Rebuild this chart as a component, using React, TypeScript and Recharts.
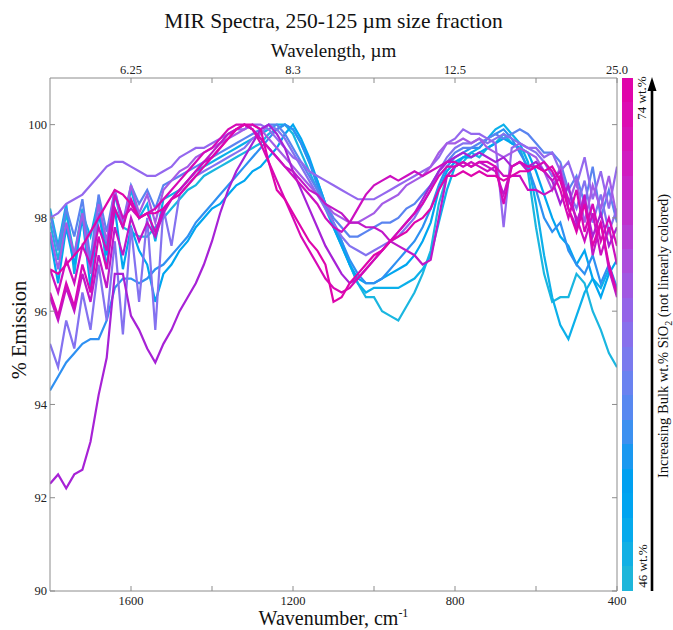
import React from 'react';
import { LineChart, Line, XAxis, YAxis } from 'recharts';

// x grid, cm-1 (plot runs high -> low)
const WAVENUMBERS = [
  1800, 1780, 1760, 1740, 1720, 1700, 1680, 1660, 1640, 1620,
  1600, 1580, 1560, 1540, 1520, 1500, 1480, 1460, 1440, 1420,
  1400, 1380, 1360, 1340, 1320, 1300, 1280, 1260, 1240, 1220,
  1200, 1180, 1160, 1140, 1120, 1100, 1080, 1060, 1040, 1020,
  1000, 980, 960, 940, 920, 900, 880, 860, 840, 820,
  800, 780, 760, 740, 720, 700, 680, 660, 640, 620,
  600, 580, 560, 540, 520, 500, 480, 460, 440, 420,
  400,
];

// % emission, one array per sample, lowest SiO2 first
const SPEC_01 = [
  97.9, 97.1, 98.1, 97.2, 98.2, 97.0, 98.3, 97.4, 98.2, 97.8,
  97.7, 97.6, 97.6, 97.8, 98.0, 98.2, 98.4, 98.6, 98.7, 98.9,
  99.0, 99.1, 99.2, 99.3, 99.4, 99.5, 99.6, 99.8, 99.9, 100.0,
  99.8, 99.4, 99.0, 98.6, 98.2, 97.8, 97.4, 97.0, 96.6, 96.3,
  96.3, 96.0, 95.9, 95.8, 96.1, 96.4, 96.8, 97.3, 98.3, 98.9,
  99.1, 99.2, 99.4, 99.3, 99.5, 99.6, 99.8, 99.6, 99.5, 99.0,
  97.8, 96.8, 96.2, 96.3, 96.3, 96.8, 96.6, 96.0, 95.6, 95.1,
  94.8,
];
const SPEC_02 = [
  98.2, 97.4, 98.3, 96.8, 98.1, 97.6, 98.4, 96.9, 98.5, 97.8,
  98.6, 98.0, 98.3, 97.5, 98.4, 98.5, 98.6, 98.8, 99.0, 99.1,
  99.2, 99.3, 99.4, 99.5, 99.6, 99.7, 99.8, 99.9, 100.0, 100.0,
  99.9, 99.6, 99.2, 98.8, 98.3, 97.9, 97.5, 97.0, 96.6, 96.4,
  96.5, 96.5, 96.5, 96.5, 96.6, 96.7, 96.9, 97.2, 97.9, 98.6,
  99.1, 99.3, 99.4, 99.5, 99.7, 99.9, 100.0, 99.8, 99.6, 99.2,
  98.3, 97.2, 96.3, 95.7, 95.4, 95.9, 96.4, 96.7, 96.5, 96.9,
  96.4,
];
const SPEC_03 = [
  97.6, 96.6, 97.8, 97.0, 98.0, 96.5, 98.1, 97.2, 98.2, 96.9,
  97.8, 97.3, 97.0, 96.2, 96.8, 97.0, 97.3, 97.5, 97.8, 98.0,
  98.2, 98.3, 98.5, 98.7, 98.8, 99.0, 99.1, 99.3, 99.5, 99.8,
  100.0, 99.7, 99.3, 98.8, 98.3, 97.8, 97.4, 97.0, 96.7, 96.6,
  96.6, 96.7, 96.8, 96.9, 97.0, 97.2, 97.5, 97.9, 98.6, 99.0,
  99.2, 99.3, 99.3, 99.4, 99.5, 99.6, 99.7, 99.6, 99.5, 99.4,
  99.0, 98.5, 98.0, 97.6, 97.4, 97.0, 97.3, 96.7, 96.3, 96.8,
  97.1,
];
const SPEC_04 = [
  94.3, 94.6, 94.9, 95.1, 95.3, 95.4, 95.4, 95.8, 96.5, 96.7,
  96.7, 96.6, 96.7, 96.9, 97.0, 97.2, 97.4, 97.6, 97.9, 98.1,
  98.3, 98.5, 98.7, 98.9, 99.1, 99.3, 99.5, 99.7, 99.9, 100.0,
  99.9, 99.6, 99.2, 98.7, 98.3, 97.9, 97.5, 97.1, 96.8, 96.6,
  96.6, 96.7, 96.9, 97.1, 97.3, 97.5, 97.8, 98.2, 98.7, 99.1,
  99.3, 99.4, 99.5, 99.5, 99.7, 99.8, 99.9, 99.7, 99.4, 99.1,
  98.6, 98.0, 97.7, 97.9, 97.3, 97.0, 96.8, 97.2, 96.6, 97.0,
  96.5,
];
const SPEC_05 = [
  98.1, 97.3, 98.2, 97.6, 98.4, 97.1, 98.5, 97.7, 98.6, 97.9,
  98.7, 98.3, 98.6, 98.2, 98.7, 98.8, 98.9, 99.0, 99.1, 99.2,
  99.3, 99.4, 99.5, 99.6, 99.7, 99.8, 99.9, 100.0, 100.0, 99.8,
  99.5, 99.2, 98.9, 98.6, 98.3, 98.0, 97.8, 97.6, 97.6, 97.7,
  97.8, 97.9, 97.9, 98.0, 98.2, 98.3, 98.5, 98.7, 99.0, 99.2,
  99.4, 99.5, 99.5, 99.6, 99.7, 99.8, 99.7, 99.8, 99.9, 99.8,
  99.6, 99.4, 99.4, 99.2, 98.6, 98.9, 98.3, 99.1, 98.0, 98.6,
  97.9,
];
const SPEC_06 = [
  95.3, 94.8, 95.8, 95.2, 96.4, 95.6, 97.0, 95.8, 97.5, 95.5,
  97.8, 96.2, 98.0, 95.6, 98.2, 97.4, 98.5, 98.7, 98.9, 99.0,
  99.1, 99.2, 99.3, 99.4, 99.5, 99.7, 99.8, 100.0, 99.9, 99.7,
  99.4, 99.1, 98.8, 98.5, 98.2, 97.9, 97.6, 97.4, 97.3, 97.2,
  97.3, 97.4, 97.5, 97.6, 97.8, 98.0, 98.3, 98.6, 99.0, 99.3,
  99.5, 99.6, 99.6, 99.7, 99.6, 99.7, 99.8, 99.7, 99.6, 99.5,
  99.4, 99.2, 98.9, 99.0, 98.6, 98.2, 98.8, 97.9, 98.5, 97.7,
  98.2,
];
const SPEC_07 = [
  98.0, 98.1, 98.3, 98.4, 98.5, 98.7, 98.9, 99.1, 99.2, 99.2,
  99.1, 99.0, 98.9, 98.9, 99.0, 99.1, 99.3, 99.4, 99.5, 99.5,
  99.6, 99.7, 99.8, 99.9, 99.9, 100.0, 100.0, 99.9, 99.7, 99.5,
  99.3, 99.2, 99.0, 98.9, 98.8, 98.7, 98.6, 98.5, 98.4, 98.4,
  98.4, 98.5, 98.6, 98.7, 98.8, 98.9, 99.0, 99.1, 99.3, 99.6,
  99.7, 99.9, 99.8, 99.8, 99.7, 99.6, 97.8, 99.5, 99.6, 99.5,
  99.5, 99.3, 99.4, 99.0, 99.2, 98.7, 99.3, 98.4, 99.0, 98.2,
  99.1,
];
const SPEC_08 = [
  97.7, 96.9, 97.9, 97.2, 98.1, 96.8, 98.3, 97.5, 98.6, 97.8,
  98.7, 98.1, 98.5, 97.9, 98.6, 98.8, 99.0, 99.1, 99.3, 99.4,
  99.5, 99.6, 99.7, 99.8, 99.9, 100.0, 99.9, 99.7, 99.5, 99.3,
  99.1, 98.9, 98.7, 98.5, 98.3, 98.1, 98.0, 97.9, 97.9, 98.0,
  98.1, 98.3, 98.4, 98.5, 98.7, 98.8, 98.9, 99.1, 99.4, 99.6,
  99.6, 99.7, 99.6, 99.7, 99.5, 99.4, 99.3, 99.4, 99.5, 99.4,
  99.3, 99.0, 98.6, 99.1, 98.3, 98.8, 97.9, 98.7, 98.2, 98.9,
  98.0,
];
const SPEC_09 = [
  92.3, 92.5, 92.2, 92.5, 92.6, 93.2, 94.2, 95.0, 96.8, 96.8,
  95.9, 95.6, 95.2, 94.9, 95.3, 95.6, 96.0, 96.3, 96.6, 97.0,
  97.5, 98.1, 98.6, 99.0, 99.3, 99.6, 99.9, 100.0, 99.8, 99.5,
  99.0, 98.6, 98.2, 97.8, 97.4, 97.1, 96.8, 96.6, 96.7, 96.9,
  97.1, 97.3, 97.5, 97.7, 97.9, 98.1, 98.4, 98.7, 99.0, 99.2,
  99.3, 99.4, 99.3, 99.4, 99.3, 99.2, 99.3, 99.1, 99.2, 99.1,
  99.2, 99.0, 98.8, 98.3, 98.7, 97.9, 98.4, 97.6, 98.1, 97.4,
  97.8,
];
const SPEC_10 = [
  96.3, 95.8, 96.5, 96.0, 96.8, 96.2, 97.2, 96.5, 97.8, 97.2,
  98.0, 97.5, 97.9, 97.6, 98.1, 98.4, 98.6, 98.8, 99.0, 99.2,
  99.4, 99.6, 99.8, 99.9, 100.0, 99.9, 99.7, 99.5, 99.3, 99.1,
  99.0, 98.8, 98.6, 98.5, 98.3, 98.2, 98.1, 97.9, 97.9, 97.8,
  97.8, 97.7, 97.5, 97.4, 97.3, 97.2, 97.0, 97.1, 98.0, 98.9,
  99.1, 99.2, 99.1, 99.2, 99.1, 99.0, 98.5, 99.1, 99.2, 99.0,
  99.1, 99.0, 98.8, 99.0, 98.2, 97.8, 98.5, 97.2, 97.9, 96.9,
  96.3,
];
const SPEC_11 = [
  96.9, 96.4, 97.1, 96.6, 97.4, 97.0, 97.8, 97.3, 98.5, 98.0,
  98.2, 98.0, 98.1, 97.7, 98.2, 98.4, 98.6, 98.8, 99.0, 99.2,
  99.3, 99.5, 99.7, 99.9, 100.0, 99.9, 99.7, 99.5, 99.3, 99.1,
  98.9, 98.7, 98.5, 98.3, 98.0, 97.8, 97.7, 97.9, 98.2, 98.5,
  98.7, 98.8, 98.9, 98.8, 98.9, 99.0, 98.9, 99.0, 99.1, 99.2,
  99.2, 99.1, 99.2, 99.1, 99.0, 99.1, 98.9, 98.9, 98.9, 98.6,
  98.6, 98.5, 98.6, 98.9, 98.4, 98.0, 97.5, 98.1, 97.2, 97.8,
  97.0,
];
const SPEC_12 = [
  96.4, 95.9, 96.6, 96.1, 97.0, 96.4, 97.6, 96.9, 98.2, 97.8,
  98.4, 98.0, 98.1, 98.2, 98.4, 98.6, 98.8, 99.0, 99.2, 99.4,
  99.5, 99.7, 99.9, 100.0, 100.0, 99.9, 99.6, 99.2, 98.8, 98.4,
  98.0, 97.6, 97.3, 97.0, 96.7, 96.5, 96.4, 96.5, 96.7, 96.9,
  97.1, 97.3, 97.5, 97.7, 97.9, 98.1, 98.3, 98.6, 98.9, 99.1,
  99.1, 99.2, 99.1, 99.2, 99.2, 99.1, 98.3, 99.1, 99.2, 99.1,
  99.1, 99.2, 99.0, 98.6, 98.0, 98.6, 97.7, 98.3, 97.5, 98.0,
  97.4,
];
const SPEC_13 = [
  96.9, 96.8, 97.0, 97.2, 97.4, 97.7, 98.0, 98.3, 98.6, 98.5,
  98.3, 98.0, 98.1, 98.1, 98.2, 98.4, 98.5, 98.7, 98.9, 99.1,
  99.3, 99.5, 99.7, 99.9, 100.0, 100.0, 99.9, 99.2, 98.6, 98.4,
  98.1, 97.8, 97.5, 97.3, 97.0, 96.2, 96.3, 96.6, 96.8, 97.0,
  97.2, 97.3, 97.5, 97.6, 97.7, 97.9, 98.0, 98.2, 98.6, 98.9,
  98.9, 99.0, 98.9, 99.0, 98.9, 98.9, 98.8, 98.9, 99.0, 99.0,
  99.1, 99.0, 99.1, 98.8, 98.2, 97.7, 98.3, 97.4, 97.9, 97.0,
  96.4,
];

// cyan (46 wt.%) -> magenta (74 wt.%)
const SERIES_COLORS = [
  '#1ab6e0', '#0cb0ea', '#00a6f0', '#2e90f2', '#5a84f0', '#8472f0', '#9468ee',
  '#a45ce6', '#a722d6', '#c018c8', '#cc10c0', '#d60ab6', '#de06ac',
];
const SPECTRA = [
  SPEC_01, SPEC_02, SPEC_03, SPEC_04, SPEC_05, SPEC_06, SPEC_07,
  SPEC_08, SPEC_09, SPEC_10, SPEC_11, SPEC_12, SPEC_13,
];

const BOTTOM_TICKS = [1600, 1400, 1200, 1000, 800, 600, 400];
const BOTTOM_LABELS = ['1600', '', '1200', '', '800', '', '400'];
const TOP_LABELS = ['6.25', '', '8.3', '', '12.5', '', '25.0'];
const Y_TICKS = [90, 92, 94, 96, 98, 100];

// colour bar bands, top to bottom
const COLORBAR_STEPS = [
  '#e004aa', '#dc0cb2', '#d614b8', '#d01cc0', '#c826c8', '#c030cc', '#b63ed4',
  '#ac4cdc', '#a058e2', '#9464e8', '#8870ec', '#7a7aee', '#6a82f0', '#5888f0',
  '#3c90f0', '#1a98f0', '#00a0f0', '#00a4f0', '#06aaec', '#12b0e4', '#1eb6da',
];

const rows = WAVENUMBERS.map((wn, i) => {
  const row: Record<string, number> = { wn };
  SPECTRA.forEach((s, k) => { row[`s${k}`] = s[i]; });
  return row;
});

const FONT = '"Liberation Serif", "Times New Roman", serif';
const AXIS = '#8c8c8c';
const tickStyle = { fontSize: 12.5, fill: '#222', fontFamily: FONT };

function RotText({ x, y, size, children }: { x: number; y: number; size: number; children: React.ReactNode }) {
  return (
    <div style={{
      position: 'absolute', left: x, top: y, fontSize: size, whiteSpace: 'nowrap', color: '#111',
      transform: 'translate(-50%, -50%) rotate(-90deg)', lineHeight: 1,
    }}>
      {children}
    </div>
  );
}

export default function App() {
  return (
    <div style={{ position: 'relative', width: 673, height: 630, fontFamily: FONT, background: '#fff' }}>
      <style>{'body{margin:0}'}</style>
      <LineChart width={673} height={630} data={rows} margin={{ top: 58, right: 50, bottom: 19, left: 20 }}>
        <XAxis
          xAxisId="bottom" dataKey="wn" type="number" domain={[400, 1800]} reversed
          ticks={BOTTOM_TICKS} tickFormatter={(v) => BOTTOM_LABELS[BOTTOM_TICKS.indexOf(v)]}
          height={20} tickSize={-5} tickMargin={10} interval={0}
          stroke={AXIS} tick={tickStyle} allowDataOverflow
        />
        <XAxis
          xAxisId="top" orientation="top" dataKey="wn" type="number" domain={[400, 1800]} reversed
          ticks={BOTTOM_TICKS} tickFormatter={(v) => TOP_LABELS[BOTTOM_TICKS.indexOf(v)]}
          height={20} tickSize={-5} tickMargin={9} interval={0}
          stroke={AXIS} tick={tickStyle} allowDataOverflow
        />
        <YAxis
          yAxisId="left" type="number" domain={[90, 101]} ticks={Y_TICKS} interval={0}
          width={30} tickSize={-5} tickMargin={8} stroke={AXIS} tick={tickStyle} allowDataOverflow
        />
        <YAxis
          yAxisId="right" orientation="right" type="number" domain={[90, 101]} ticks={Y_TICKS}
          tickFormatter={() => ''} width={6} tickSize={-5} stroke={AXIS} allowDataOverflow
        />
        {SPECTRA.map((_, k) => (
          <Line
            key={k} xAxisId="bottom" yAxisId="left" dataKey={`s${k}`} stroke={SERIES_COLORS[k]}
            strokeWidth={2.2} dot={false} activeDot={false} isAnimationActive={false}
          />
        ))}
      </LineChart>

      <div style={{ position: 'absolute', left: 0, width: 667, top: 9, textAlign: 'center', fontSize: 21.5, color: '#111' }}>
        MIR Spectra, 250-125 µm size fraction
      </div>
      <div style={{ position: 'absolute', left: 0, width: 667, top: 40, textAlign: 'center', fontSize: 19, color: '#111' }}>
        Wavelength, µm
      </div>
      <div style={{ position: 'absolute', left: 0, width: 667, top: 608, lineHeight: 1, textAlign: 'center', fontSize: 20, color: '#111' }}>
        Wavenumber, cm<sup style={{ fontSize: 12, lineHeight: 0 }}>-1</sup>
      </div>
      <RotText x={19} y={330} size={20.5}>% Emission</RotText>

      <div style={{ position: 'absolute', left: 622, top: 78, width: 11, height: 513, display: 'flex', flexDirection: 'column' }}>
        {COLORBAR_STEPS.map((c) => <div key={c} style={{ flex: 1, background: c }} />)}
      </div>
      <RotText x={641} y={98} size={13}>74 wt.%</RotText>
      <RotText x={642} y={566} size={13}>46 wt.%</RotText>
      <svg style={{ position: 'absolute', left: 646, top: 74, overflow: 'visible' }} width={12} height={520}>
        <line x1={6} y1={517} x2={6} y2={14} stroke="#000" strokeWidth={2.6} />
        <polygon points="6,3 1.5,17 10.5,17" fill="#000" />
      </svg>
      <RotText x={665} y={336} size={14.5}>
        Increasing Bulk wt.% SiO<sub style={{ fontSize: 10 }}>2</sub> (not linearly colored)
      </RotText>
    </div>
  );
}
